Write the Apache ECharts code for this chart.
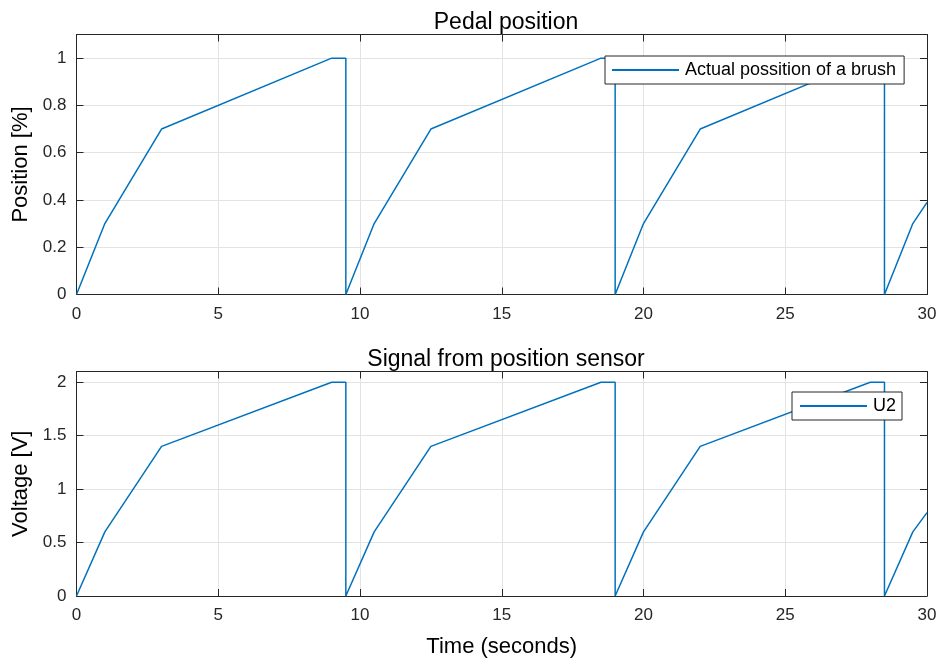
<!DOCTYPE html>
<html>
<head>
<meta charset="utf-8">
<script src="https://cdn.jsdelivr.net/npm/echarts@6/dist/echarts.min.js"></script>
<style>
  html, body { margin: 0; padding: 0; background: #fff; }
  #chart { width: 940px; height: 659px; }
</style>
</head>
<body>
<div id="chart"></div>
<script>
// sample times (seconds)
const timeSec = [0, 1, 3, 9, 9.5, 9.5, 10.5, 12.5, 18.5, 19, 19, 20, 22, 28, 28.5, 28.5, 29.5, 30]
// pedal position [%]
const positionVals = [0, 0.3, 0.7, 1, 1, 0, 0.3, 0.7, 1, 1, 0, 0.3, 0.7, 1, 1, 0, 0.3, 0.39]
// sensor voltage [V]
const voltageVals = [0, 0.6, 1.4, 2, 2, 0, 0.6, 1.4, 2, 2, 0, 0.6, 1.4, 2, 2, 0, 0.6, 0.78]

const xTicks = [0, 5, 10, 15, 20, 25, 30]
const lineColor = '#0072BD'
const axisColor = '#262626'
const fontName = 'Liberation Sans, Arial, Helvetica, sans-serif'

const pairs = (xs, ys) => xs.map((x, i) => [x, ys[i]])

// bottom x axis with labels, inward ticks, light grid
const mkX = (gridIndex, showLabel, name) => ({
	type: 'value',
	gridIndex,
	min: xTicks[0],
	max: xTicks[xTicks.length - 1],
	interval: 5,
	position: 'bottom',
	name: name || '',
	nameLocation: 'middle',
	nameGap: 40,
	nameTextStyle: { fontSize: 22, color: '#000', fontFamily: fontName },
	axisLine: { show: true, onZero: false, lineStyle: { color: axisColor, width: 1 } },
	axisTick: { show: true, inside: true, length: 7, lineStyle: { color: axisColor } },
	axisLabel: { show: showLabel, fontSize: 17, color: axisColor, fontFamily: fontName, margin: 11 },
	splitLine: { show: true, lineStyle: { color: '#e3e3e3', width: 1 } }
})
// top box edge with inward ticks
const mkXTop = (gridIndex) => ({
	type: 'value',
	gridIndex,
	min: 0,
	max: 30,
	interval: 5,
	position: 'top',
	axisLine: { show: true, onZero: false, lineStyle: { color: axisColor, width: 1 } },
	axisTick: { show: true, inside: true, length: 7, lineStyle: { color: axisColor } },
	axisLabel: { show: false },
	splitLine: { show: false }
})
const mkY = (gridIndex, max, interval, name) => ({
	type: 'value',
	gridIndex,
	min: 0,
	max,
	interval,
	position: 'left',
	name,
	nameLocation: 'middle',
	nameRotate: 90,
	nameGap: 41,
	nameTextStyle: { fontSize: 22, color: '#000', fontFamily: fontName },
	axisLine: { show: true, onZero: false, lineStyle: { color: axisColor, width: 1 } },
	axisTick: { show: true, inside: true, length: 7, lineStyle: { color: axisColor } },
	axisLabel: { showMaxLabel: false, fontSize: 17, color: axisColor, fontFamily: fontName, margin: 10 },
	splitLine: { show: true, lineStyle: { color: '#e3e3e3', width: 1 } }
})
const mkYRight = (gridIndex, max, interval) => ({
	type: 'value',
	gridIndex,
	min: 0,
	max,
	interval,
	position: 'right',
	axisLine: { show: true, onZero: false, lineStyle: { color: axisColor, width: 1 } },
	axisTick: { show: true, inside: true, length: 7, lineStyle: { color: axisColor } },
	axisLabel: { show: false },
	splitLine: { show: false }
})

const legendBase = {
	orient: 'vertical',
	icon: 'rect',
	itemWidth: 67,
	itemHeight: 2,
	itemGap: 4,
	backgroundColor: '#fff',
	borderColor: axisColor,
	borderWidth: 1,
	borderRadius: 0,
	textStyle: { fontSize: 18, color: '#000', fontFamily: fontName, padding: [0, 0, 0, 1] }
}

const titleStyle = { fontSize: 23, fontWeight: 'normal', color: '#000', fontFamily: fontName }

const option = {
	animation: false,
	backgroundColor: '#fff',
	title: [
		{ text: 'Pedal position', left: 501, top: 6, textAlign: 'center', textStyle: titleStyle },
		{ text: 'Signal from position sensor', left: 501, top: 343, textAlign: 'center', textStyle: titleStyle }
	],
	legend: [
		Object.assign({}, legendBase, { data: ['Actual possition of a brush'], left: 605, top: 56, padding: [5, 8, 5, 7] }),
		Object.assign({}, legendBase, { data: ['U2'], left: 792, top: 392, padding: [5, 6, 5, 8] })
	],
	grid: [
		{ left: 76.5, right: 13, top: 34.5, height: 260 },
		{ left: 76.5, right: 13, top: 371.5, height: 226 }
	],
	xAxis: [
		mkX(0, true),
		mkXTop(0),
		mkX(1, true, 'Time (seconds)'),
		mkXTop(1)
	],
	yAxis: [
		mkY(0, 1.1, 0.2, 'Position [%]'),
		mkYRight(0, 1.1, 0.2),
		mkY(1, 2.1, 0.5, 'Voltage [V]'),
		mkYRight(1, 2.1, 0.5)
	],
	series: [
		{
			name: 'Actual possition of a brush',
			type: 'line',
			xAxisIndex: 0,
			yAxisIndex: 0,
			symbol: 'none',
			color: lineColor,
			lineStyle: { width: 1.5, color: lineColor },
			data: pairs(timeSec, positionVals)
		},
		{
			name: 'U2',
			type: 'line',
			xAxisIndex: 2,
			yAxisIndex: 2,
			symbol: 'none',
			color: lineColor,
			lineStyle: { width: 1.5, color: lineColor },
			data: pairs(timeSec, voltageVals)
		}
	]
}

const chartDom = echarts.init(document.getElementById('chart'))
chartDom.setOption(option, true)
</script>
</body>
</html>
